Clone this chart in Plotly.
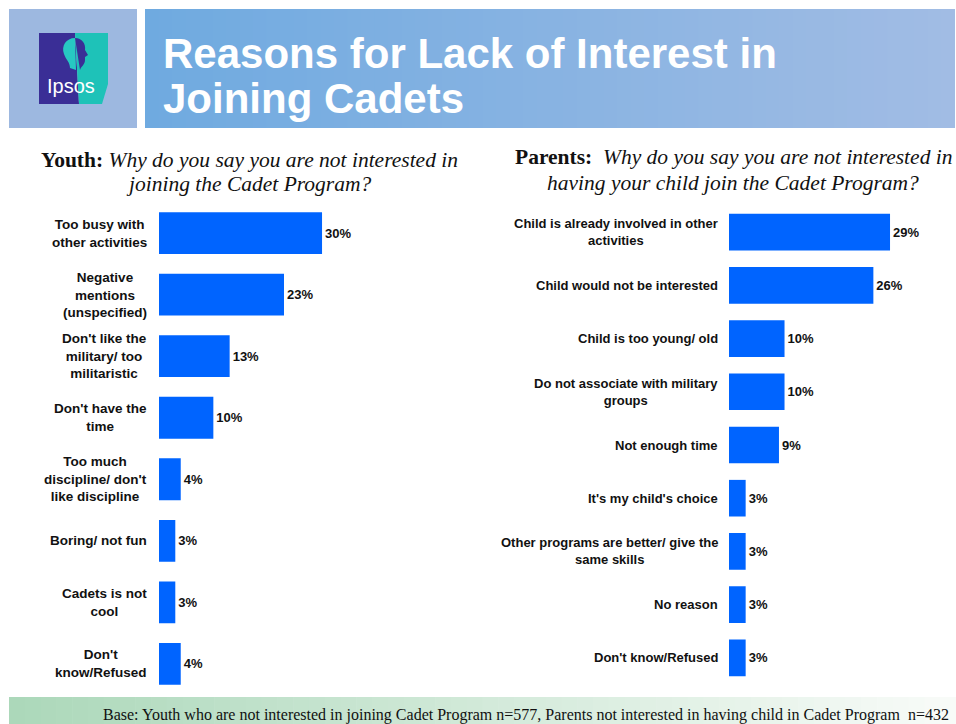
import plotly.graph_objects as go

# ---- data ----
youth_labels = [
    "Too busy with<br>other activities",
    "Negative<br>mentions<br>(unspecified)",
    "Don't like the<br>military/ too<br>militaristic",
    "Don't have the<br>time",
    "Too much<br>discipline/ don't<br>like discipline",
    "Boring/ not fun",
    "Cadets is not<br>cool",
    "Don't<br>know/Refused",
]
youth_values = [30, 23, 13, 10, 4, 3, 3, 4]

parent_labels = [
    "Child is already involved in other<br>activities",
    "Child would not be interested",
    "Child is too young/ old",
    "Do not associate with military<br>groups",
    "Not enough time",
    "It's my child's choice",
    "Other programs are better/ give the<br>same skills",
    "No reason",
    "Don't know/Refused",
]
parent_values = [29, 26, 10, 10, 9, 3, 3, 3, 3]

TITLE_LINES = ["Reasons for Lack of Interest in", "Joining Cadets"]
YOUTH_Q = ["<b>Youth:</b> <i>Why do you say you are not interested in</i>",
           "<i>joining the Cadet Program?</i>"]
PARENT_Q = ["<b>Parents:</b>  <i>Why do you say you are not interested in</i>",
            "<i>having your child join the Cadet Program?</i>"]
BASE_NOTE = ("Base: Youth who are not interested in joining Cadet Program n=577, "
             "Parents not interested in having child in Cadet Program  n=432")

W, H = 956, 724
BAR = "#0064FF"
SANS = "Liberation Sans, Arial, sans-serif"
SERIF = "Liberation Serif, Times New Roman, serif"


def px(x):
    return x / W


def py(y):
    return 1 - y / H


def mix(c1, c2, t):
    return "rgb(%d,%d,%d)" % tuple(round(a + (b - a) * t) for a, b in zip(c1, c2))


def path(points, closed=True, curves=None):
    s = "M {} {}".format(px(points[0][0]), py(points[0][1]))
    for x, y in points[1:]:
        s += " L {} {}".format(px(x), py(y))
    return s + (" Z" if closed else "")


fig = go.Figure()

value_font = dict(family=SANS, size=13, color="#111")
fig.add_trace(go.Bar(
    x=youth_values, y=youth_labels, orientation="h",
    marker=dict(color=BAR, line=dict(width=0)), width=0.68,
    text=[f"<b>{v}%</b>" for v in youth_values], textposition="outside",
    textfont=value_font,
    cliponaxis=False, xaxis="x", yaxis="y", showlegend=False, hoverinfo="skip",
))
fig.add_trace(go.Bar(
    x=parent_values, y=parent_labels, orientation="h",
    marker=dict(color=BAR, line=dict(width=0)), width=0.69,
    text=[f"<b>{v}%</b>" for v in parent_values], textposition="outside",
    textfont=value_font,
    cliponaxis=False, xaxis="x2", yaxis="y2", showlegend=False, hoverinfo="skip",
))

shapes = []
annotations = []

# logo panel
shapes.append(dict(type="rect", xref="paper", yref="paper",
                   x0=px(9), x1=px(137), y0=py(128), y1=py(9),
                   fillcolor="#9DB8E0", line=dict(width=0), layer="below"))
# title panel with horizontal gradient
c_left, c_right = (111, 170, 224), (161, 188, 228)
n = 60
x0, x1 = 145, 955
for i in range(n):
    a = x0 + (x1 - x0) * i / n
    b = x0 + (x1 - x0) * (i + 1) / n + 0.6
    shapes.append(dict(type="rect", xref="paper", yref="paper",
                       x0=px(a), x1=px(min(b, x1)), y0=py(128), y1=py(9),
                       fillcolor=mix(c_left, c_right, i / (n - 1)),
                       line=dict(width=0), layer="below"))
# footer band with green-to-white gradient
f_left, f_right = (172, 216, 186), (248, 251, 248)
x0, x1 = 9, 956
for i in range(n):
    a = x0 + (x1 - x0) * i / n
    b = x0 + (x1 - x0) * (i + 1) / n + 0.6
    shapes.append(dict(type="rect", xref="paper", yref="paper",
                       x0=px(a), x1=px(min(b, x1)), y0=py(724), y1=py(697),
                       fillcolor=mix(f_left, f_right, i / (n - 1)),
                       line=dict(width=0), layer="below"))

# Ipsos logo: purple block, teal block with clipped corner, head silhouette
PURPLE, TEAL = "#3A2E96", "#1EC2B8"
shapes.append(dict(type="path", xref="paper", yref="paper",
                   path=path([(39, 33), (75, 33), (79, 104), (39, 104)]),
                   fillcolor=PURPLE, line=dict(width=0)))
shapes.append(dict(type="path", xref="paper", yref="paper",
                   path=path([(75, 33), (108, 33), (108, 84), (102, 104), (79, 104)]),
                   fillcolor=TEAL, line=dict(width=0)))
# back of the head (teal on purple)
head_back = ("M {} {} C {} {} {} {} {} {} C {} {} {} {} {} {} L {} {} Z").format(
    px(75), py(38),
    px(66), py(38), px(61), py(46), px(64), py(54),
    px(66), py(60), px(70), py(62), px(70), py(68),
    px(76), py(70))
shapes.append(dict(type="path", xref="paper", yref="paper", path=head_back,
                   fillcolor="#27C8C2", line=dict(width=0)))
# face profile (purple on teal)
face = ("M {} {} C {} {} {} {} {} {} L {} {} L {} {} L {} {} "
        "C {} {} {} {} {} {} Z").format(
    px(75), py(38),
    px(82), py(38), px(86), py(44), px(85), py(50),
    px(88), py(55), px(85), py(57), px(85), py(60),
    px(85), py(65), px(81), py(66), px(80), py(70),
    px(76), py(70))
shapes.append(dict(type="path", xref="paper", yref="paper", path=face,
                   fillcolor=PURPLE, line=dict(width=0)))
annotations.append(dict(xref="paper", yref="paper", x=px(71), y=py(86),
                        text="Ipsos", showarrow=False, xanchor="center", yanchor="middle",
                        font=dict(family=SANS, size=20, color="white")))

# title
for line, yc in zip(TITLE_LINES, [54, 98]):
    annotations.append(dict(xref="paper", yref="paper", x=px(161), y=py(yc),
                            text="<b>" + line + "</b>", showarrow=False,
                            xanchor="left", yanchor="middle", align="left",
                            font=dict(family=SANS, size=42, color="white")))

# question headings
for line, yc in zip(YOUTH_Q, [160, 184]):
    annotations.append(dict(xref="paper", yref="paper", x=px(249), y=py(yc),
                            text=line, showarrow=False, xanchor="center", yanchor="middle",
                            font=dict(family=SERIF, size=21.5, color="#111")))
for line, yc in zip(PARENT_Q, [157, 183]):
    annotations.append(dict(xref="paper", yref="paper", x=px(733), y=py(yc),
                            text=line, showarrow=False, xanchor="center", yanchor="middle",
                            font=dict(family=SERIF, size=21.5, color="#111")))

# category labels
for lab in youth_labels:
    annotations.append(dict(xref="paper", yref="y", x=px(149), y=lab, text="<b>" + lab + "</b>",
                            showarrow=False, xanchor="right", yanchor="middle", align="center",
                            font=dict(family=SANS, size=13.5, color="#111")))
for lab in parent_labels:
    annotations.append(dict(xref="paper", yref="y2", x=px(720), y=lab, text="<b>" + lab + "</b>",
                            showarrow=False, xanchor="right", yanchor="middle", align="center",
                            font=dict(family=SANS, size=13, color="#111")))

# base note
annotations.append(dict(xref="paper", yref="paper", x=px(951), y=py(715),
                        text=BASE_NOTE, showarrow=False, xanchor="right", yanchor="middle",
                        font=dict(family=SERIF, size=16, color="#111")))

axis_off = dict(showgrid=False, zeroline=False, showticklabels=False, showline=False, ticks="")

fig.update_layout(
    width=W, height=H, margin=dict(l=0, r=0, t=0, b=0),
    paper_bgcolor="white", plot_bgcolor="rgba(0,0,0,0)",
    xaxis=dict(domain=[px(159), px(459)], range=[0, 55.2], **axis_off),
    yaxis=dict(domain=[py(694.7), py(202.3)], autorange="reversed", anchor="x",
               type="category", **axis_off),
    xaxis2=dict(domain=[px(729), px(950)], range=[0, 39.8], anchor="y2", **axis_off),
    yaxis2=dict(domain=[py(684.6), py(205.4)], autorange="reversed", anchor="x2",
                type="category", **axis_off),
    shapes=shapes, annotations=annotations, bargap=0.3,
    uniformtext=dict(mode=False),
)

fig.write_html("out.html")
